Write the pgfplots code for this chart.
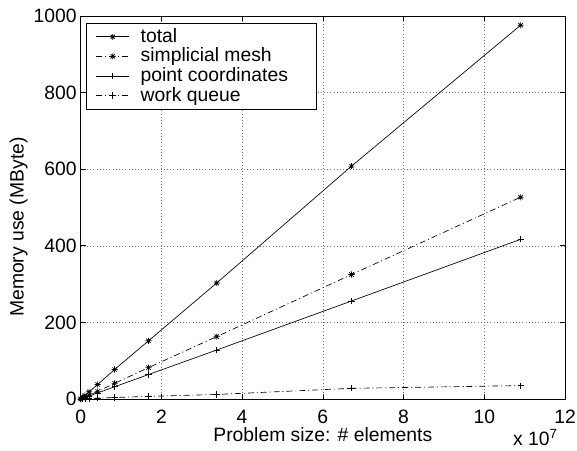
\documentclass[border=0pt]{standalone}
\usepackage{fontspec}
\setmainfont{Liberation Sans}
\usepackage{pgfplots}
\pgfplotsset{compat=1.18}

% eight-spoke star like MATLAB's '*'
\pgfdeclareplotmark{mstar}{%
  \pgfpathmoveto{\pgfqpoint{-\pgfplotmarksize}{0pt}}\pgfpathlineto{\pgfqpoint{\pgfplotmarksize}{0pt}}%
  \pgfpathmoveto{\pgfqpoint{0pt}{-\pgfplotmarksize}}\pgfpathlineto{\pgfqpoint{0pt}{\pgfplotmarksize}}%
  \pgfpathmoveto{\pgfqpoint{-.707\pgfplotmarksize}{-.707\pgfplotmarksize}}\pgfpathlineto{\pgfqpoint{.707\pgfplotmarksize}{.707\pgfplotmarksize}}%
  \pgfpathmoveto{\pgfqpoint{-.707\pgfplotmarksize}{.707\pgfplotmarksize}}\pgfpathlineto{\pgfqpoint{.707\pgfplotmarksize}{-.707\pgfplotmarksize}}%
  \pgfusepathqstroke}

% x in units of 10^7 elements, y in MByte
\pgfplotstableread{
x      total  mesh  coords queue
0.0    0      0     0      0
0.053  5      2.6   2      0.5
0.105  9.5    5.1   4      1
0.21   19     10    8      1.6
0.42   38     20    16     2.5
0.84   77     41    32     4
1.68   152    82    64     7
3.37   303    163   128    12
6.71   608    325   256    28
10.9   976    527   417    35
}\memdata

\begin{document}
\fontsize{14.5}{17}\selectfont
\begin{tikzpicture}
\useasboundingbox (-60.5pt,-38.25pt) rectangle (372.2pt,299.25pt);
\begin{axis}[
    at={(0,0)}, anchor=south west,
    scale only axis,
    width=363.2pt, height=287.25pt,
    xmin=0, xmax=12, ymin=0, ymax=1000,
    xtick={0,2,...,12}, ytick={0,200,...,1000},
    tick align=inside,
    xtick pos=both, ytick pos=both,
    major tick length=3.75pt,
    grid=major,
    major grid style={dotted, black!55},
    axis line style={line width=0.6pt},
    tick style={black, line width=0.5pt},
    /pgf/number format/assume math mode=true,
    /pgf/number format/1000 sep={},
    ticklabel style={font=\fontsize{14.5}{17}\selectfont},
    xticklabel style={yshift=-3.5pt},
    yticklabel style={xshift=2pt},
    xlabel={Problem size: \# elements},
    ylabel={Memory use (MByte)},
    xlabel style={at={(axis description cs:0.5,0)}, anchor=north, inner sep=0pt, yshift=-21pt},
    ylabel style={at={(axis description cs:0,0.449)}, anchor=center, yshift=46.6pt},
    legend style={at={(0.011,0.9825)}, anchor=north west, draw=black,
        line width=0.5pt, row sep=-2pt, inner xsep=7.3pt, inner ysep=2pt,
        /tikz/every odd column/.append style={column sep=6.5pt},
        font=\fontsize{14.5}{17}\selectfont},
    legend cell align=left,
    legend image code/.code={\draw[mark repeat=2, mark phase=2, #1]
        plot coordinates {(0cm,0cm) (0.43cm,0cm) (0.86cm,0cm)};},
    every axis plot/.append style={black, line width=0.5pt, mark size=2.3pt},
]
\addplot[solid, mark=mstar] table[x=x, y=total] {\memdata};
\addlegendentry{total}
\addplot[dash pattern=on 4.5pt off 2.2pt on 0.75pt off 2.2pt, mark=mstar, mark options={solid}] table[x=x, y=mesh] {\memdata};
\addlegendentry{simplicial mesh}
\addplot[solid, mark=+] table[x=x, y=coords] {\memdata};
\addlegendentry{point coordinates\rule{12pt}{0pt}}
\addplot[dash pattern=on 4.5pt off 2.2pt on 0.75pt off 2.2pt, mark=+, mark options={solid}] table[x=x, y=queue] {\memdata};
\addlegendentry{work queue}
\end{axis}
\node[anchor=base east, inner sep=0pt] at (357.95pt,-34.5pt) {x 10\textsuperscript{\fontsize{10}{12}\selectfont 7}};
\end{tikzpicture}
\end{document}
